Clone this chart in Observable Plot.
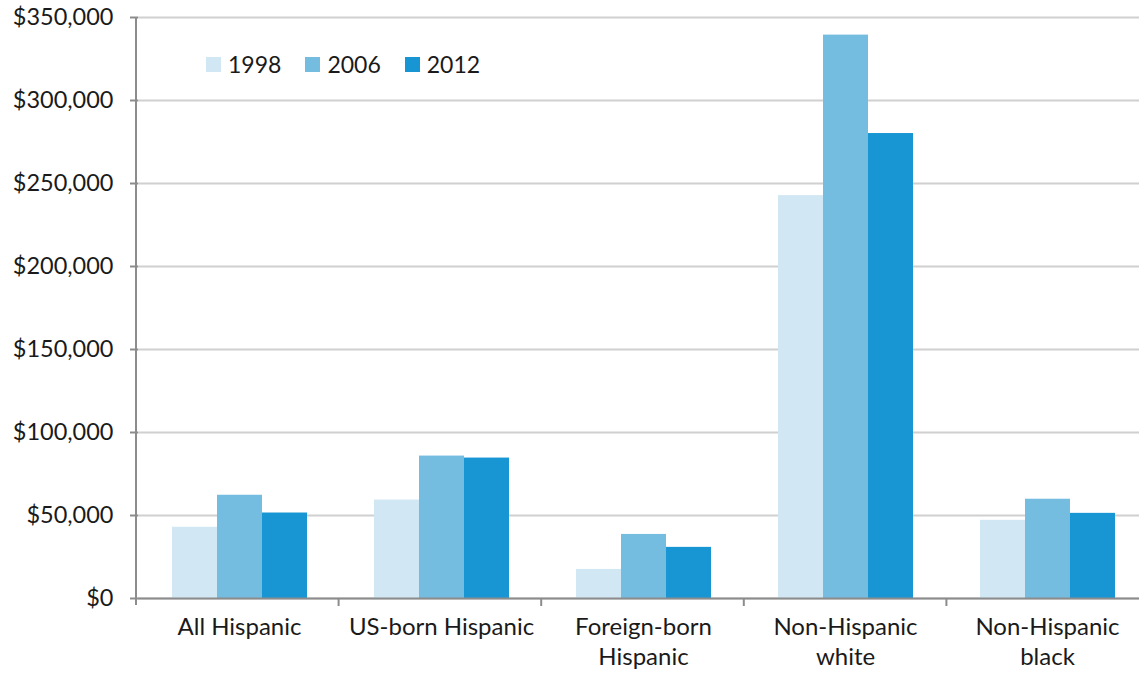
<!DOCTYPE html>
<html>
<head>
<meta charset="utf-8">
<script src="https://cdn.jsdelivr.net/npm/d3@7"></script>
<script src="https://cdn.jsdelivr.net/npm/@observablehq/plot@0.6"></script>
<style>
  html, body { margin: 0; padding: 0; background: #fff; overflow: hidden; }
  #wrap { position: relative; width: 1139px; height: 673px; overflow: hidden; font-family: Lato, "Noto Sans", sans-serif; }
  #wrap svg { max-width: none !important; }
  #legend { position: absolute; left: 206px; top: 51px; display: flex; align-items: center; font-size: 23px; color: #1a1a1a; line-height: 26px; }
  #legend .item { display: flex; align-items: center; margin-right: 24px; }
  #legend .sw { width: 15px; height: 15px; margin-right: 7px; }
</style>
</head>
<body>
<div id="wrap"></div>
<script>
// Median household net worth by group, in dollars
const categories = ["All Hispanic", "US-born Hispanic", "Foreign-born Hispanic", "Non-Hispanic white", "Non-Hispanic black"];
const categoryLabels = ["All Hispanic", "US-born Hispanic", "Foreign-born\nHispanic", "Non-Hispanic\nwhite", "Non-Hispanic\nblack"];
const years = ["1998", "2006", "2012"];
const worth1998 = [42900, 59300, 17500, 242700, 47100];
const worth2006 = [62200, 85800, 38600, 339400, 59800];
const worth2012 = [51500, 84600, 30800, 280100, 51300];
const yearColors = ["#d1e7f3", "#75bde0", "#1896d3"];
const yTicks = [0, 50000, 100000, 150000, 200000, 250000, 300000, 350000];

const series = [worth1998, worth2006, worth2012];
const rows = categories.flatMap((category, i) =>
  years.map((year, j) => ({category, year, value: series[j][i]}))
);
const labelOf = new Map(categories.map((c, i) => [c, categoryLabels[i]]));
const money = d => "$" + d3.format(",")(d);
const axisGray = "#8c8c8c";

// The plot frame runs a little past the right edge of the page
const chart = Plot.plot({
  width: 1149,
  height: 673,
  marginLeft: 136,
  marginRight: 0,
  marginTop: 17,
  marginBottom: 75,
  style: {fontFamily: "Lato, 'Noto Sans', sans-serif", fontSize: "23px", color: "#1a1a1a", background: "#fff", maxWidth: "none"},
  fx: {domain: categories, padding: 0},
  x: {domain: years, paddingInner: 0, paddingOuter: 0.73, axis: null},
  y: {domain: [0, 350000]},
  color: {domain: years, range: yearColors},
  marks: [
    Plot.gridY({ticks: yTicks, stroke: "#d0d0d0", strokeOpacity: 1, strokeWidth: 2}),
    Plot.barY(rows, {fx: "category", x: "year", y: "value", fill: "year"}),
    Plot.ruleY([0], {stroke: axisGray, strokeWidth: 2}),
    Plot.axisY({ticks: yTicks, tickFormat: money, tickSize: 8, tickPadding: 17, stroke: axisGray, strokeWidth: 2, fill: "#1a1a1a", fontSize: 23.5, label: null}),
    Plot.axisFx({anchor: "bottom", tickSize: 0, tickPadding: 15, tickFormat: c => labelOf.get(c), lineHeight: 1.25, fill: "#1a1a1a", fontSize: 24, label: null})
  ]
});

// Vertical axis line and category boundary ticks, placed from the facet scale
const fxScale = chart.scale("fx");
const yScale = chart.scale("y");
const band = d3.scaleBand().domain(fxScale.domain).range(fxScale.range).padding(0);
const y0 = yScale.apply(0);
const yTop = yScale.apply(350000);
const svg = d3.select(chart);
const deco = svg.append("g").attr("stroke", axisGray).attr("stroke-width", 2);
deco.append("line")
  .attr("x1", band.range()[0]).attr("x2", band.range()[0])
  .attr("y1", yTop).attr("y2", y0 + 7);
const bounds = categories.slice(1).map(c => band(c));
deco.selectAll(".bound").data(bounds).join("line")
  .attr("x1", d => d).attr("x2", d => d)
  .attr("y1", y0).attr("y2", y0 + 8);

const wrap = document.getElementById("wrap");
wrap.appendChild(chart);

// Legend of the three survey years
const legend = d3.select(wrap).append("div").attr("id", "legend");
const items = legend.selectAll(".item").data(years).join("div").attr("class", "item");
items.append("div").attr("class", "sw").style("background", (d, i) => yearColors[i]);
items.append("span").text(d => d);
</script>
</body>
</html>
